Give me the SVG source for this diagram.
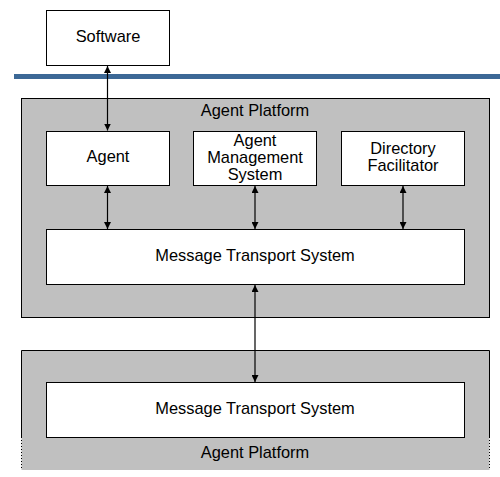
<svg xmlns="http://www.w3.org/2000/svg" width="500" height="477" viewBox="0 0 500 477">
<style>
.box{fill:#fff;stroke:#000;stroke-width:1}
.plat{fill:#c0c0c0;stroke:#000;stroke-width:1}
text{font-family:"Liberation Sans",Arial,sans-serif;font-size:16.4px;fill:#000;text-anchor:middle}
.conn{stroke:#000;stroke-width:1.2;fill:none;marker-start:url(#ah);marker-end:url(#ah)}
</style>
<defs>
<marker id="ah" viewBox="0 0 10 10" refX="10" refY="5" markerWidth="7" markerHeight="7" markerUnits="userSpaceOnUse" orient="auto-start-reverse">
<path d="M0,0 L10,5 L0,10 z" fill="#000"/>
</marker>
</defs>
<rect width="500" height="477" fill="#fff"/>
<g id="software"><rect class="box" x="46.5" y="10.5" width="123" height="55"/><text x="108" y="42">Software</text></g>
<line x1="14" y1="76.5" x2="500" y2="76.5" stroke="#3c6896" stroke-width="5"/>
<g id="platform1"><rect class="plat" x="21.5" y="98.5" width="468" height="219"/><text x="255" y="116">Agent Platform</text></g>
<g id="agent"><rect class="box" x="46.5" y="131.5" width="123" height="54"/><text x="108" y="162">Agent</text></g>
<g id="ams"><rect class="box" x="193.5" y="131.5" width="123" height="54"/><text x="255" y="146">Agent</text><text x="255" y="163">Management</text><text x="255" y="180">System</text></g>
<g id="df"><rect class="box" x="341.5" y="131.5" width="123" height="54"/><text x="403" y="154">Directory</text><text x="403" y="171">Facilitator</text></g>
<g id="mts1"><rect class="box" x="46.5" y="229.5" width="418" height="55"/><text x="255" y="261">Message Transport System</text></g>
<g id="platform2">
<path d="M21.5,470 L21.5,350.5 L489.5,350.5 L489.5,470 Z" fill="#c0c0c0"/>
<path d="M21.5,437 L21.5,350.5 L489.5,350.5 L489.5,437" fill="none" stroke="#000"/>
<path d="M21.5,437 L21.5,470 M489.5,437 L489.5,470" fill="none" stroke="#000" stroke-dasharray="1,2"/>
<text x="255" y="458">Agent Platform</text>
</g>
<g id="mts2"><rect class="box" x="46.5" y="382.5" width="418" height="55"/><text x="255" y="414">Message Transport System</text></g>
<g id="connectors">
<line class="conn" x1="107.5" y1="66" x2="107.5" y2="130.5"/>
<line class="conn" x1="107.5" y1="186" x2="107.5" y2="229"/>
<line class="conn" x1="255" y1="186" x2="255" y2="229"/>
<line class="conn" x1="403" y1="186" x2="403" y2="229"/>
<line class="conn" x1="255" y1="285" x2="255" y2="382"/>
</g>
</svg>
